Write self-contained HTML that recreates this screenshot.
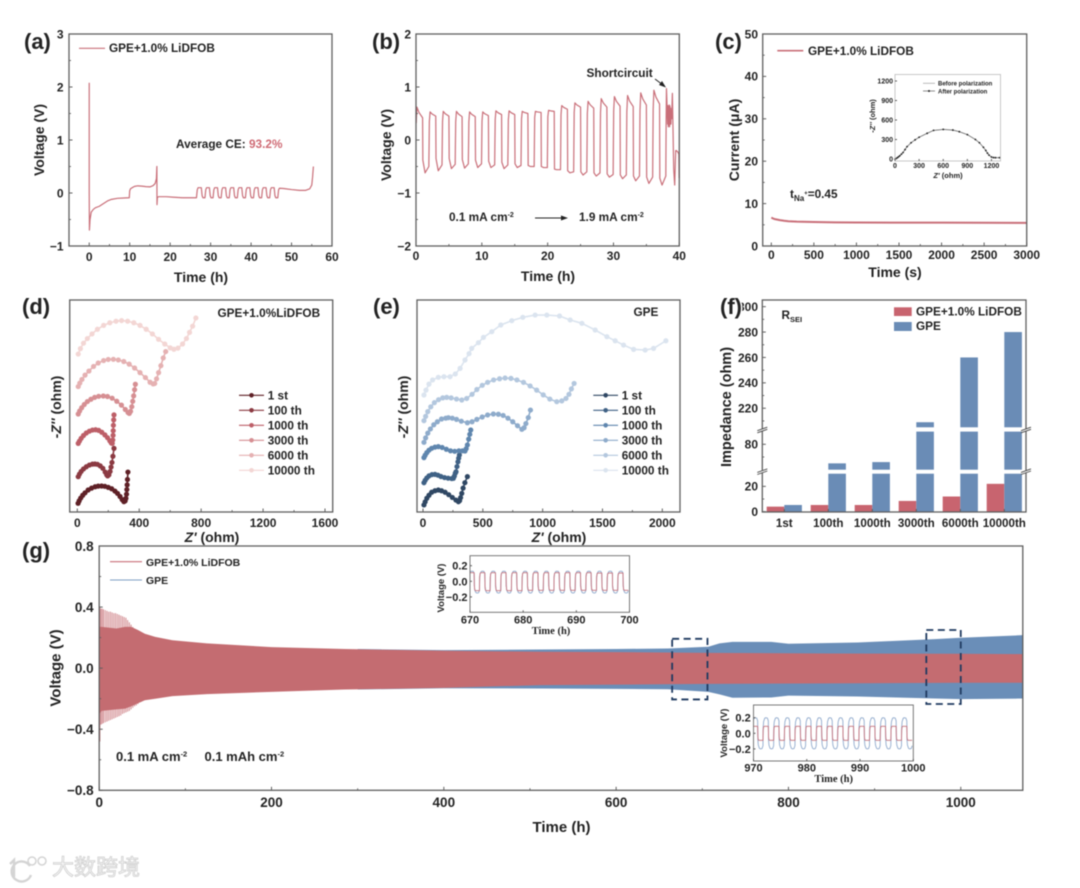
<!DOCTYPE html>
<html lang="en">
<head>
<meta charset="utf-8">
<title>Electrochemical performance of GPE and GPE+1.0% LiDFOB</title>
<style>
html,body{margin:0;padding:0;background:#fff;width:1080px;height:888px;overflow:hidden}
#figure{display:block;filter:blur(0.6px)}
text{font-family:"Liberation Sans","Noto Sans CJK SC",sans-serif;font-weight:bold;fill:#232323}
.t{font-size:12px}
.title{font-size:14px;text-anchor:middle}
.panel{font-size:22px;paint-order:stroke;stroke:#fff;stroke-width:3px}
.note{font-size:11.8px}
.serif{font-family:"Liberation Serif",serif;font-size:10.5px;text-anchor:middle}
.small{font-size:9.5px;text-anchor:middle}
</style>
</head>
<body>
<svg id="figure" xmlns="http://www.w3.org/2000/svg" width="1080" height="888" viewBox="0 0 1080 888">
<defs>
<clipPath id="g1-clip"><rect x="470" y="555.7" width="159.5" height="56.6"/></clipPath>
<clipPath id="g2-clip"><rect x="753.5" y="705" width="159.8" height="56"/></clipPath>
</defs>

<g id="panel-a">
<text class="title" transform="translate(44,140) rotate(-90)">Voltage (V)</text>
<text class="title" x="201" y="282">Time (h)</text>
<text class="note" x="109" y="52">GPE+1.0% LiDFOB</text>
<text class="note" x="176" y="148">Average CE: <tspan fill="#cf6b75" style="fill:#cf6b75">93.2%</tspan></text>
</g>

<g id="panel-b">
<text class="title" transform="translate(391,145) rotate(-90)">Voltage (V)</text>
<text class="title" x="548" y="281">Time (h)</text>
<text class="note" x="586.5" y="77">Shortcircuit</text>
<line x1="655" y1="79" x2="663" y2="85" stroke="#222" stroke-width="1"/>
<polygon points="666,87.5 659,85 662,81" fill="#222"/>
<text class="note" x="449" y="221">0.1 mA cm<tspan dy="-4" font-size="7">-2</tspan></text>
<line x1="535" y1="218" x2="562" y2="218" stroke="#222" stroke-width="1"/>
<polygon points="568,218 561,215.5 561,220.5" fill="#222"/>
<text class="note" x="579" y="221">1.9 mA cm<tspan dy="-4" font-size="7">-2</tspan></text>
</g>

<g id="panel-c">
<text class="title" transform="translate(739,140) rotate(-90)">Current (μA)</text>
<text class="title" x="895" y="277">Time (s)</text>
<text class="note" x="808" y="55">GPE+1.0% LiDFOB</text>
<text class="note" x="790" y="198">t<tspan dy="3" font-size="8">Na</tspan><tspan dy="-6" font-size="6">+</tspan><tspan dy="3">=0.45</tspan></text>
<text x="948" y="178" font-size="7.5" text-anchor="middle"><tspan font-style="italic">Z'</tspan> (ohm)</text>
<text transform="translate(875,116) rotate(-90)" font-size="7.5" text-anchor="middle">-<tspan font-style="italic">Z''</tspan> (ohm)</text>
<text x="938" y="85.5" font-size="6">Before polarization</text>
<text x="938" y="93.5" font-size="6">After polarization</text>
</g>

<g id="panel-d">
<text class="title" transform="translate(61,407) rotate(-90)">-<tspan font-style="italic">Z''</tspan> (ohm)</text>
<text class="title" x="212" y="542"><tspan font-style="italic">Z'</tspan> (ohm)</text>
<text class="note" x="217.5" y="317">GPE+1.0%LiDFOB</text>
</g>

<g id="panel-e">
<text class="title" transform="translate(408,407) rotate(-90)">-<tspan font-style="italic">Z''</tspan> (ohm)</text>
<text class="title" x="559" y="542"><tspan font-style="italic">Z'</tspan> (ohm)</text>
<text class="note" x="633.5" y="316">GPE</text>
</g>

<g id="panel-f">
<text class="title" transform="translate(731,407) rotate(-90)" style="font-size:14.5px">Impedance (ohm)</text>
<text class="note" x="781.5" y="319">R<tspan dy="3" font-size="7.5">SEI</tspan></text>
</g>

<g id="panel-g">
<text class="title" transform="translate(60.5,668) rotate(-90)" style="font-size:15px">Voltage (V)</text>
<text class="title" x="561.5" y="832" style="font-size:15px">Time (h)</text>
<text x="146" y="566" font-size="10.5">GPE+1.0% LiDFOB</text>
<text x="146" y="584" font-size="10.5">GPE</text>
<text x="116" y="761" font-size="13">0.1 mA cm<tspan dy="-4.5" font-size="7.5">-2</tspan></text>
<text x="204.5" y="761" font-size="13">0.1 mAh cm<tspan dy="-4.5" font-size="7.5">-2</tspan></text>
</g>

<g id="overlay">
<text class="serif" x="551" y="634">Time (h)</text>
<text class="small" transform="translate(444,588) rotate(-90)">Voltage (V)</text>
<text class="serif" x="833.7" y="782">Time (h)</text>
<text class="small" transform="translate(727,733) rotate(-90)">Voltage (V)</text>
<text class="panel" x="24" y="49">(a)</text>
<text class="panel" x="372" y="49">(b)</text>
<text class="panel" x="715" y="49">(c)</text>
<text class="panel" x="22" y="314">(d)</text>
<text class="panel" x="373" y="314">(e)</text>
<text class="panel" x="720" y="314">(f)</text>
<text class="panel" x="22" y="558">(g)</text>
</g>

<g id="watermark" opacity="0.9">
<path d="M10 864 L14 860 L14 877" fill="none" stroke="#d0d0d0" stroke-width="2.4"/>
<path d="M30 866 A10 10 0 1 0 31 875" fill="none" stroke="#d0d0d0" stroke-width="2.4"/>
<circle cx="32" cy="861" r="4" fill="none" stroke="#d0d0d0" stroke-width="1.5"/>
<circle cx="42" cy="861" r="4" fill="none" stroke="#d0d0d0" stroke-width="1.5"/>
<text x="52" y="875" font-size="22" style="fill:#f6f6f6;stroke:#cccccc;stroke-width:0.8px;font-weight:normal;font-family:'Liberation Sans','Noto Sans CJK SC',sans-serif">大数跨境</text>
</g>
</svg>

<script>
/* ---------- panel a: voltage profile ---------- */
const aTime = [0,0,0.05,0.2,0.5,1,1.5,2.5,3.5,4.5,5.5,7,8.5,9.9,10,10.2,10.6,11.2,12,13,14,15,15.8,16.3,16.6,16.72,16.75,16.85,17.2,19,21,23,25,26.5,26.7,26.9,27.7,27.9,28.1,28.6,28.8,29,29.7,29.9,30.1,30.6,30.8,31,31.7,31.9,32.1,32.6,32.8,33,33.7,33.9,34.1,34.6,34.8,35,35.7,35.9,36.1,36.6,36.8,37,37.7,37.9,38.1,38.6,38.8,39,39.7,39.9,40.1,40.6,40.8,41,41.7,41.9,42.1,42.6,42.8,43,43.7,43.9,44.1,44.6,44.8,45,45.7,45.9,46.1,46.6,46.8,47,48,50,52,53.5,54.5,55,55.2,55.4];
const aVoltage = [2.08,0,-0.7,-0.5,-0.36,-0.31,-0.28,-0.25,-0.2,-0.15,-0.12,-0.1,-0.095,-0.09,0.04,0.08,0.1,0.125,0.135,0.13,0.12,0.115,0.14,0.18,0.27,0.5,-0.22,-0.08,-0.07,-0.07,-0.08,-0.09,-0.09,-0.09,0.06,0.1,0.1,-0.05,-0.09,-0.09,0.06,0.1,0.1,-0.05,-0.09,-0.09,0.06,0.1,0.1,-0.05,-0.09,-0.09,0.06,0.1,0.1,-0.05,-0.09,-0.09,0.06,0.1,0.1,-0.05,-0.09,-0.09,0.06,0.1,0.1,-0.05,-0.09,-0.09,0.06,0.1,0.1,-0.05,-0.09,-0.09,0.06,0.1,0.1,-0.05,-0.09,-0.09,0.06,0.1,0.1,-0.05,-0.09,-0.09,0.06,0.1,0.1,-0.05,-0.09,-0.09,0.06,0.09,0.085,0.065,0.05,0.05,0.08,0.15,0.3,0.5];
const aXTicks = [0,10,20,30,40,50,60];
const aXMinor = [-5,5,15,25,35,45,55];
const aYTicks = [-1,0,1,2,3];
const aYMinor = [-0.5,0.5,1.5,2.5];

/* ---------- panel b: rate cycling ---------- */
const bRise = [0,2,4,6,8,10,12,14,16,18,20,22,24,26,28,30,32,34,36];
const bPeak = [0.62,0.53,0.54,0.54,0.53,0.53,0.55,0.55,0.54,0.54,0.56,0.65,0.7,0.73,0.78,0.82,0.84,0.89,0.94];
const bPlateau = [0.42,0.45,0.45,0.44,0.44,0.46,0.48,0.48,0.5,0.52,0.54,0.58,0.62,0.6,0.62,0.64,0.63,0.66,0.68];
const bShelf = [-0.38,-0.35,-0.35,-0.37,-0.38,-0.4,-0.42,-0.45,-0.48,-0.5,-0.55,-0.58,-0.6,-0.62,-0.64,-0.66,-0.68,-0.7,-0.72];
const bTrough = [-0.62,-0.58,-0.54,-0.53,-0.52,-0.52,-0.54,-0.52,-0.5,-0.52,-0.56,-0.62,-0.66,-0.68,-0.7,-0.73,-0.77,-0.82,-0.85];
const bRecover = [-0.5,-0.47,-0.46,-0.45,-0.45,-0.47,-0.47,-0.48,-0.5,-0.52,-0.56,-0.6,-0.6,-0.62,-0.65,-0.66,-0.68,-0.7,-0.68];
const bTailTime = [38,38.05,38.15,38.22,38.28,38.33,38.38,38.43,38.48,38.53,38.58,38.63,38.68,38.73,38.78,38.83,38.95,39.15,39.3,39.45,39.55,39.8,39.93,39.97];
const bTailVoltage = [0.35,0.97,0.6,0.3,0.65,0.25,0.62,0.28,0.66,0.25,0.64,0.3,0.6,0.3,0.55,0.4,0.88,-0.55,-0.85,-0.2,-0.2,-0.23,-0.27,-0.72];
const bXTicks = [0,10,20,30,40];
const bXMinor = [5,15,25,35];
const bYTicks = [-2,-1,0,1,2];
const bYMinor = [-1.5,-0.5,0.5,1.5];

/* ---------- panel c: polarization current ---------- */
const cTime = [0,25,50,100,150,200,300,500,750,1000,1500,2000,2500,3000];
const cCurrent = [6.7,6.45,6.3,6.1,5.95,5.85,5.75,5.65,5.58,5.55,5.5,5.5,5.47,5.45];
const cXTicks = [0,500,1000,1500,2000,2500,3000];
const cXMinor = [250,750,1250,1750,2250,2750];
const cYTicks = [0,10,20,30,40,50];
const cYMinor = [5,15,25,35,45];
const cInsetZr = [0,15,30,45,60,80,100,125,150,200,250,300,400,480,600,720,800,900,1000,1050,1100,1130,1150,1170,1200,1225,1250,1300];
const cInsetZi = [0,8,20,35,50,75,100,145,190,250,295,335,395,440,455,445,420,375,300,250,180,130,90,60,30,22,20,20];
const cInsetXTicks = [0,300,600,900,1200];
const cInsetYTicks = [0,300,600,900,1200];

/* ---------- panel d: LiDFOB impedance ---------- */
const cycleNames = ['1 st','100 th','1000 th','3000 th','6000 th','10000 th'];
const dZr1 = [5,12,22,35,50,70,92,115,135,157,178,200,222,243,260,276,290,301,309,314,318,320,322,324,327];
const dZi1 = [56,72,90,108,124,142,154,163,167,168,166,159,150,135,120,100,80,67,72,88,115,145,175,210,258];
const dZr2 = [6,14,25,40,58,78,98,114,130,148,165,180,190,196,204,212,218,224,230,237];
const dZi2 = [228,245,262,278,292,303,309,310,308,298,282,258,240,233,240,262,290,320,360,411];
const dZr3 = [6,14,25,40,58,78,98,118,138,158,178,195,210,220,226,229,231,232,233,235,237];
const dZi3 = [443,458,476,494,510,522,529,531,527,515,498,480,460,445,443,465,495,525,560,595,627];
const dZr4 = [6,15,28,45,65,88,112,138,168,195,225,255,285,310,328,336,344,352,358,364,370,375];
const dZi4 = [633,652,673,694,713,728,740,747,749,746,735,715,690,662,642,637,650,680,715,750,790,825];
const dZr5 = [6,16,30,50,75,105,135,170,200,233,265,300,335,370,405,440,470,490,500,512,525,540,555,571];
const dZi5 = [810,832,856,884,910,940,962,978,985,986,982,972,955,930,900,868,838,827,830,860,900,945,995,1036];
const dZr6 = [6,20,40,65,95,130,170,210,250,286,325,365,405,445,485,525,565,600,624,650,680,705,725,745,766];
const dZi6 = [1020,1055,1090,1120,1150,1180,1205,1222,1232,1236,1232,1222,1205,1180,1150,1115,1085,1060,1051,1058,1085,1120,1160,1200,1253];
const dXTicks = [0,400,800,1200,1600];
const dXMinor = [200,600,1000,1400];

/* ---------- panel e: GPE impedance ---------- */
const eZr1 = [8,18,32,50,72,100,128,155,185,215,245,275,296,306,314,324,335,350,371];
const eZi1 = [59,85,115,140,165,178,184,178,165,145,122,100,86,95,120,156,200,245,296];
const eZr2 = [8,18,32,50,75,100,125,150,180,210,240,254,262,270,276,284,292,298,304];
const eZi2 = [245,265,285,302,313,315,308,297,288,283,280,282,300,325,337,380,420,450,477];
const eZr3 = [8,18,32,50,72,100,128,160,195,230,265,300,330,351,361,371,382,391,399];
const eZi3 = [455,475,497,517,533,543,547,540,525,512,508,512,512,510,530,561,610,650,686];
const eZr4 = [8,22,40,62,90,120,155,190,212,245,280,320,371,410,450,495,540,588,630,670,710,750,790,826,845,860,880,898];
const eZi4 = [583,620,660,695,730,755,778,785,789,785,775,760,747,755,775,795,812,820,818,808,785,755,722,692,705,740,790,853];
const eZr5 = [8,22,40,65,95,130,165,198,235,280,324,365,410,450,495,540,590,640,686,735,785,840,895,950,1005,1060,1118,1160,1195,1220,1240,1263];
const eZi5 = [764,800,840,880,915,940,955,959,955,945,937,950,985,1025,1060,1085,1105,1115,1121,1118,1105,1085,1055,1020,980,945,923,930,950,985,1030,1076];
const eZr6 = [8,25,50,80,128,175,226,270,310,351,385,407,463,505,575,650,742,834,937,1035,1141,1230,1328,1439,1537,1606,1676,1760,1857,1927,2030];
const eZi6 = [979,1020,1070,1105,1127,1132,1132,1155,1202,1272,1325,1369,1417,1461,1509,1565,1601,1629,1648,1648,1640,1607,1579,1523,1467,1433,1397,1361,1355,1369,1433];
const eXTicks = [0,500,1000,1500,2000];
const eXMinor = [250,750,1250,1750];

/* ---------- panel f: bar chart ---------- */
const fCategories = ['1st','100th','1000th','3000th','6000th','10000th'];
const fLidfob = [4,5.3,5.3,8.5,12,22];
const fGpe = [5.3,65,66,209,260,280];
const fYTicks = [0,20,80,220,240,260,280,300];
const fYMinor = [10,70,210,230,250,270,290];

/* ---------- panel g: long-term cycling envelope ---------- */
const gRedTime = [0,3,20,30,37,45,53,65,85,125,200,285,400,512,600,707,850,1000,1072];
const gRedHigh = [0.27,0.27,0.26,0.27,0.27,0.25,0.225,0.205,0.183,0.162,0.138,0.125,0.114,0.107,0.105,0.1,0.096,0.094,0.092];
const gRedLow = [-0.3,-0.28,-0.27,-0.265,-0.25,-0.23,-0.21,-0.2,-0.183,-0.17,-0.155,-0.14,-0.129,-0.111,-0.108,-0.103,-0.1,-0.096,-0.096];
const gBlueTime = [300,400,512,600,660,707,720,735,780,800,880,970,1000,1072];
const gBlueHigh = [0.125,0.118,0.122,0.125,0.129,0.14,0.162,0.172,0.172,0.16,0.168,0.19,0.199,0.216];
const gBlueLow = [-0.14,-0.132,-0.133,-0.136,-0.138,-0.155,-0.172,-0.194,-0.192,-0.18,-0.186,-0.199,-0.203,-0.199];
const gSpikeTime = [0.8,2,3.5,5,7,9,11,13,15,17,19,21,23,25,27,29,31,33,35,37,39,41,43,45,47,49];
const gSpikeHigh = [0.4,0.39,0.39,0.385,0.38,0.375,0.37,0.37,0.365,0.36,0.36,0.355,0.35,0.345,0.34,0.335,0.33,0.315,0.3,0.285,0.27,0.26,0.25,0.245,0.24,0.235];
const gSpikeLow = [-0.48,-0.37,-0.365,-0.36,-0.355,-0.35,-0.345,-0.34,-0.335,-0.33,-0.325,-0.32,-0.315,-0.31,-0.3,-0.295,-0.29,-0.285,-0.28,-0.27,-0.26,-0.25,-0.245,-0.235,-0.225,-0.22];
const gXTicks = [0,200,400,600,800,1000];
const gXMinor = [100,300,500,700,900];
const gYTicks = [-0.8,-0.4,0,0.4,0.8];
const gYMinor = [-0.6,-0.2,0.2,0.6];
const gZoomStart = [665,960];
const gZoomEnd = [706,1000];
const gZoomHigh = [0.192,0.25];
const gZoomLow = [-0.205,-0.235];

/* ---------- panel g insets ---------- */
const g1Starts = [669.8,671.8,673.8,675.8,677.8,679.8,681.8,683.8,685.8,687.8,689.8,691.8,693.8,695.8,697.8];
const g1RedHigh = [0.11,0.11,0.11,0.11,0.11,0.11,0.11,0.11,0.11,0.11,0.11,0.11,0.105,0.105,0.105];
const g1RedLow = [-0.12,-0.12,-0.12,-0.12,-0.12,-0.115,-0.115,-0.115,-0.115,-0.115,-0.115,-0.115,-0.115,-0.115,-0.115];
const g1BlueHigh = [0.13,0.13,0.13,0.13,0.13,0.13,0.13,0.13,0.13,0.13,0.13,0.13,0.13,0.13,0.13];
const g1BlueLow = [-0.15,-0.15,-0.15,-0.15,-0.15,-0.15,-0.15,-0.15,-0.15,-0.15,-0.15,-0.15,-0.15,-0.15,-0.15];
const g1XTicks = [670,680,690,700];
const g2Starts = [969.8,971.8,973.8,975.8,977.8,979.8,981.8,983.8,985.8,987.8,989.8,991.8,993.8,995.8,997.8];
const g2RedHigh = [0.09,0.09,0.09,0.09,0.09,0.09,0.09,0.09,0.09,0.09,0.09,0.09,0.09,0.09,0.09];
const g2RedLow = [-0.09,-0.09,-0.09,-0.09,-0.09,-0.09,-0.09,-0.09,-0.09,-0.09,-0.09,-0.09,-0.09,-0.09,-0.09];
const g2BlueHigh = [0.2,0.2,0.2,0.2,0.2,0.2,0.2,0.2,0.2,0.2,0.2,0.2,0.2,0.2,0.2];
const g2BlueLow = [-0.2,-0.2,-0.2,-0.2,-0.2,-0.2,-0.2,-0.2,-0.2,-0.2,-0.2,-0.2,-0.2,-0.2,-0.2];
const g2XTicks = [970,980,990,1000];
const gInsetYTicks = [-0.2,0,0.2];

/* ---------- helpers ---------- */
const NS = 'http://www.w3.org/2000/svg';
const svgRoot = document.getElementById('figure');
const PINK = '#c96f79';
const FRAME = '#5f5f5f';
function mk(tag, name, attrs, parent) {
  const el = document.createElementNS(NS, tag);
  
  
  for (const k in attrs) el.setAttribute(k, attrs[k]);
  parent.appendChild(el);
  return el;
}
function linear(d0, d1, r0, r1) {
  return v => r0 + (v - d0) * (r1 - r0) / (d1 - d0);
}
function label(name, str, x, y, size, anchor, parent) {
  const el = mk('text', name, {x: x, y: y, 'font-size': size, 'text-anchor': anchor}, parent);
  el.textContent = str;
  return el;
}
function fmtNum(v, digits) {
  const s = Math.abs(v).toFixed(digits);
  return (v < 0 ? '\u2212' : '') + s;
}
function pts(xs, ys, fx, fy) {
  return xs.map((x, i) => fx(x).toFixed(2) + ',' + fy(ys[i]).toFixed(2)).join(' ');
}
function frameAndTicks(o, parent) {
  mk('rect', o.key + '-plot-frame', {x: o.left, y: o.top, width: o.right - o.left, height: o.bottom - o.top, fill: 'none', stroke: o.frame || FRAME, 'stroke-width': o.sw || 1.3}, parent);
  const maj = o.maj || 3.5, min = o.min || 2, size = o.size || 12;
  (o.xTicks || []).forEach(v => {
    mk('line', o.key + '-x-tick', {x1: o.x(v), x2: o.x(v), y1: o.bottom, y2: o.bottom - maj, stroke: FRAME, 'stroke-width': 1}, parent);
    label(o.key + '-x-tick-label', o.xFmt ? o.xFmt(v) : String(v), o.x(v), o.xLabelY, size, 'middle', parent);
  });
  (o.xMinor || []).forEach(v => {
    mk('line', o.key + '-x-minor-tick', {x1: o.x(v), x2: o.x(v), y1: o.bottom, y2: o.bottom - min, stroke: FRAME, 'stroke-width': 0.9}, parent);
  });
  (o.yTicks || []).forEach(v => {
    mk('line', o.key + '-y-tick', {x1: o.left, x2: o.left + maj, y1: o.y(v), y2: o.y(v), stroke: FRAME, 'stroke-width': 1}, parent);
    label(o.key + '-y-tick-label', o.yFmt ? o.yFmt(v) : fmtNum(v, 0), o.yLabelX, o.y(v) + size * 0.36, size, 'end', parent);
  });
  (o.yMinor || []).forEach(v => {
    mk('line', o.key + '-y-minor-tick', {x1: o.left, x2: o.left + min, y1: o.y(v), y2: o.y(v), stroke: FRAME, 'stroke-width': 0.9}, parent);
  });
}
function series(name, xs, ys, fx, fy, color, width, parent) {
  return mk('polyline', name, {points: pts(xs, ys, fx, fy), fill: 'none', stroke: color, 'stroke-width': width, 'stroke-linejoin': 'round'}, parent);
}

/* ---------- panel a ---------- */
(function () {
  const g = document.getElementById('panel-a');
  const x = linear(-5, 60, 69, 332), y = linear(-1, 3, 246, 34);
  series('voltage-curve-a', aTime, aVoltage, x, y, PINK, 1.2, g);
  frameAndTicks({key: 'a', left: 69, right: 332, top: 34, bottom: 246, x: x, y: y, xTicks: aXTicks, xMinor: aXMinor, yTicks: aYTicks, yMinor: aYMinor, xLabelY: 261, yLabelX: 63.5}, g);
  mk('line', 'legend-line-a', {x1: 79, x2: 105, y1: 48.3, y2: 48.3, stroke: PINK, 'stroke-width': 1.2}, g);
})();

/* ---------- panel b ---------- */
(function () {
  const g = document.getElementById('panel-b');
  const x = linear(0, 40, 416, 679.3), y = linear(-2, 2, 246, 34);
  const ts = [], vs = [];
  bRise.forEach((t, i) => {
    ts.push(t + 0.03, t + 0.14, t + 0.45, t + 1.0, t + 1.04, t + 1.38, t + 1.95);
    vs.push(bPlateau[i] - 0.1, bPeak[i], (bPeak[i] + bPlateau[i]) / 2, bPlateau[i], bShelf[i], bTrough[i], bRecover[i]);
  });
  bTailTime.forEach((t, i) => { ts.push(t); vs.push(bTailVoltage[i]); });
  series('voltage-curve-b', ts, vs, x, y, PINK, 1.2, g);
  frameAndTicks({key: 'b', left: 416, right: 679.3, top: 34, bottom: 246, x: x, y: y, xTicks: bXTicks, xMinor: bXMinor, yTicks: bYTicks, yMinor: bYMinor, xLabelY: 260, yLabelX: 411}, g);
})();

/* ---------- panel c ---------- */
(function () {
  const g = document.getElementById('panel-c');
  const x = linear(0, 3000, 771.3, 1026.7), y = linear(0, 50, 246, 34);
  series('current-curve-c', cTime, cCurrent, x, y, PINK, 2, g);
  frameAndTicks({key: 'c', left: 762.7, right: 1026.7, top: 34, bottom: 246, x: x, y: y, xTicks: cXTicks, xMinor: cXMinor, yTicks: cYTicks, yMinor: cYMinor, xLabelY: 259, yLabelX: 758}, g);
  mk('line', 'legend-line-c', {x1: 777.3, x2: 803.3, y1: 50.7, y2: 50.7, stroke: PINK, 'stroke-width': 1.6}, g);
  const ix = linear(0, 1300, 895, 999.5), iy = linear(0, 1200, 159, 81);
  series('inset-c-before-curve', cInsetZr, cInsetZi, ix, iy, '#9a9a9a', 0.9, g);
  series('inset-c-after-curve', cInsetZr, cInsetZi, ix, iy, '#555', 0.5, g);
  cInsetZr.forEach((v, i) => {
    mk('circle', 'inset-c-after-point', {cx: ix(v), cy: iy(cInsetZi[i]), r: 0.9, fill: '#222'}, g);
  });
  frameAndTicks({key: 'inset-c', left: 895, right: 1000.5, top: 74.5, bottom: 161, frame: '#c2c2c2', sw: 0.9, maj: 2, min: 1, size: 7, x: ix, y: iy, xTicks: cInsetXTicks, yTicks: cInsetYTicks, xLabelY: 168, yLabelX: 893}, g);
  mk('line', 'inset-c-legend-before-line', {x1: 923, x2: 935, y1: 83.3, y2: 83.3, stroke: '#aaa', 'stroke-width': 0.8}, g);
  mk('line', 'inset-c-legend-after-line', {x1: 923, x2: 935, y1: 91, y2: 91, stroke: '#444', 'stroke-width': 0.6}, g);
  mk('circle', 'inset-c-legend-after-marker', {cx: 929, cy: 91, r: 1, fill: '#222'}, g);
})();

/* ---------- panels d and e ---------- */
function nyquist(key, left, right, xs, ys, colors, x, y, xTicks, xMinor, legendX0, legendX1, legendTextX, parent) {
  frameAndTicks({key: key, left: left, right: right, top: 300, bottom: 512, x: x, y: y, xTicks: xTicks, xMinor: xMinor, xLabelY: 527, yLabelX: left}, parent);
  xs.forEach((xArr, s) => {
    series(key + '-nyquist-line-' + cycleNames[s].replace(' ', ''), xArr, ys[s], x, y, colors[s], 1.6, parent);
    xArr.forEach((v, i) => {
      mk('circle', key + '-nyquist-point', {cx: x(v), cy: y(ys[s][i]), r: 2.6, fill: colors[s]}, parent);
    });
    const ly = 395.3 + s * 15;
    mk('line', key + '-legend-line', {x1: legendX0, x2: legendX1, y1: ly, y2: ly, stroke: colors[s], 'stroke-width': 1.2}, parent);
    mk('circle', key + '-legend-marker', {cx: (legendX0 + legendX1) / 2, cy: ly, r: 2.3, fill: colors[s]}, parent);
    label(key + '-legend-label', cycleNames[s], legendTextX, ly + 4, 11.8, 'start', parent);
  });
}
nyquist('d', 69.7, 332.7, [dZr1, dZr2, dZr3, dZr4, dZr5, dZr6], [dZi1, dZi2, dZi3, dZi4, dZi5, dZi6],
  ['#5e2026', '#8b3a42', '#bd5f68', '#d68f93', '#e5b1b2', '#f3d6d4'],
  linear(0, 1600, 77.3, 325), linear(0, 1369, 512, 300), dXTicks, dXMinor, 239, 264, 267.7, document.getElementById('panel-d'));
nyquist('e', 417, 680, [eZr1, eZr2, eZr3, eZr4, eZr5, eZr6], [eZi1, eZi2, eZi3, eZi4, eZi5, eZi6],
  ['#2f4763', '#3f6185', '#5f86ae', '#8eabcb', '#b3c7de', '#dbe4ef'],
  linear(0, 2000, 423, 662.3), linear(0, 1774, 512, 300), eXTicks, eXMinor, 593.3, 618, 621.7, document.getElementById('panel-e'));

/* ---------- panel f ---------- */
(function () {
  const g = document.getElementById('panel-f');
  const segLow = linear(0, 30, 511.7, 473.7), segMid = linear(60, 90, 469.7, 431.6), segTop = linear(205, 305, 427.3, 300.3);
  const RED = '#c8646f', BLUE = '#6a8cb6';
  const y = v => (v <= 30 ? segLow(v) : v <= 90 ? segMid(v) : segTop(v));
  const band = i => 762.3 + (i + 0.5) * 44;
  const barW = 17.6;
  function bar(name, x0, value, color) {
    const segs = [[0, 30, segLow], [60, 90, segMid], [205, 305, segTop]];
    segs.forEach(s => {
      if (value <= s[0]) return;
      const top = Math.min(value, s[1]);
      const yTop = s[2](top), yBot = s[2](s[0]);
      mk('rect', name, {x: x0, y: yTop, width: barW, height: yBot - yTop, fill: color}, g);
    });
  }
  fCategories.forEach((c, i) => {
    bar('bar-lidfob-' + c, band(i) - barW, fLidfob[i], RED);
    bar('bar-gpe-' + c, band(i), fGpe[i], BLUE);
  });
  frameAndTicks({key: 'f', left: 762.3, right: 1026, top: 300, bottom: 512, x: band, y: y, yTicks: fYTicks, yMinor: fYMinor, yLabelX: 758}, g);
  fCategories.forEach((c, i) => {
    mk('line', 'f-x-tick', {x1: band(i), x2: band(i), y1: 512, y2: 509, stroke: FRAME, 'stroke-width': 1}, g);
    label('f-x-tick-label', c, band(i), 527, 11.6, 'middle', g);
  });
  [471.7, 430].forEach(py => {
    [762.3, 1026].forEach(px => {
      mk('rect', 'axis-break-gap', {x: px - 3, y: py - 1.3, width: 6, height: 2.6, fill: '#fff'}, g);
      mk('line', 'axis-break-slash', {x1: px - 5, y1: py + 0.7, x2: px + 5, y2: py - 2.8, stroke: '#444', 'stroke-width': 0.9}, g);
      mk('line', 'axis-break-slash', {x1: px - 5, y1: py + 2.8, x2: px + 5, y2: py - 0.7, stroke: '#444', 'stroke-width': 0.9}, g);
    });
  });
  mk('rect', 'legend-swatch-lidfob', {x: 894, y: 307.3, width: 17.7, height: 8.7, fill: RED}, g);
  mk('rect', 'legend-swatch-gpe', {x: 894, y: 322, width: 17.7, height: 9, fill: BLUE}, g);
  label('legend-label-f-lidfob', 'GPE+1.0% LiDFOB', 916, 315.5, 11.8, 'start', g);
  label('legend-label-f-gpe', 'GPE', 916, 330, 11.8, 'start', g);
})();

/* ---------- panel g ---------- */
function wavePoints(starts, hi, lo, dome) {
  const shape = dome
    ? [[0.02, 0.4], [0.1, 0.75], [0.3, 0.96], [0.5, 1], [0.8, 0.98], [0.98, 0.8]]
    : [[0.02, 0.5], [0.1, 0.92], [0.25, 1], [0.98, 1]];
  const ts = [], vs = [];
  starts.forEach((t0, i) => {
    shape.forEach(p => { ts.push(t0 + p[0]); vs.push(p[1] * hi[i]); });
    shape.forEach(p => { ts.push(t0 + 1 + p[0]); vs.push(p[1] * lo[i]); });
  });
  return [ts, vs];
}
function envelope(name, ts, hi, lo, x, y, color, parent) {
  const up = ts.map((t, i) => x(t).toFixed(2) + ',' + y(hi[i]).toFixed(2));
  const dn = ts.map((t, i) => x(t).toFixed(2) + ',' + y(lo[i]).toFixed(2)).reverse();
  return mk('polygon', name, {points: up.concat(dn).join(' '), fill: color}, parent);
}
(function () {
  const g = document.getElementById('panel-g');
  const x = linear(0, 1072, 99.2, 1022.8), y = linear(-0.8, 0.8, 790.3, 546);
  const RED = '#c46c71', BLUE = '#6a8eb8';
  envelope('gpe-voltage-band', gBlueTime, gBlueHigh, gBlueLow, x, y, BLUE, g);
  gSpikeTime.forEach((t, i) => {
    mk('line', 'lidfob-voltage-spike', {x1: x(t), x2: x(t), y1: y(gSpikeHigh[i]), y2: y(gSpikeLow[i]), stroke: '#d28b90', 'stroke-width': 1}, g);
  });
  envelope('lidfob-voltage-band', gRedTime, gRedHigh, gRedLow, x, y, RED, g);
  frameAndTicks({key: 'g', left: 99.2, right: 1022.8, top: 546, bottom: 790.3, size: 13.5, x: x, y: y, xTicks: gXTicks, xMinor: gXMinor, yTicks: gYTicks, yMinor: gYMinor, yFmt: v => fmtNum(v, 1), xLabelY: 807, yLabelX: 93.7}, g);
  mk('line', 'legend-line-g-lidfob', {x1: 110, x2: 142, y1: 561.7, y2: 561.7, stroke: PINK, 'stroke-width': 1.1}, g);
  mk('line', 'legend-line-g-gpe', {x1: 110, x2: 142, y1: 580, y2: 580, stroke: '#7f9fc6', 'stroke-width': 1.1}, g);
  gZoomStart.forEach((t, i) => {
    mk('rect', 'zoom-region-box', {x: x(t), y: y(gZoomHigh[i]), width: x(gZoomEnd[i]) - x(t), height: y(gZoomLow[i]) - y(gZoomHigh[i]), fill: 'none', stroke: '#1f3a60', 'stroke-width': 1.8, 'stroke-dasharray': '7 4.5'}, g);
  });

  function inset(key, clip, left, right, top, bottom, xDom0, xDom1, yZero, starts, rh, rl, bh, bl, xTicks, xLabelY, yLabelX) {
    const ix = linear(xDom0, xDom1, left, right), iy = v => yZero - v * 78;
    const holder = mk('g', key + '-wave-group', {'clip-path': 'url(#' + clip + ')'}, g);
    const blue = wavePoints(starts, bh, bl, true);
    const red = wavePoints(starts, rh, rl, false);
    series(key + '-gpe-wave', blue[0], blue[1], ix, iy, '#8fa9cc', 0.9, holder);
    series(key + '-lidfob-wave', red[0], red[1], ix, iy, '#c4727c', 0.9, holder);
    frameAndTicks({key: key, left: left, right: right, top: top, bottom: bottom, frame: '#6a6a6a', sw: 0.9, maj: 2, min: 1, size: 11, x: ix, y: iy, xTicks: xTicks, yTicks: gInsetYTicks, yFmt: v => fmtNum(v, 1), xLabelY: xLabelY, yLabelX: yLabelX}, g);
  }
  inset('inset-g1', 'g1-clip', 470, 629.5, 555.7, 612.3, 670, 700, 581.3, g1Starts, g1RedHigh, g1RedLow, g1BlueHigh, g1BlueLow, g1XTicks, 623.5, 467.5);
  inset('inset-g2', 'g2-clip', 753.5, 913.3, 705, 761, 970, 1000, 733.3, g2Starts, g2RedHigh, g2RedLow, g2BlueHigh, g2BlueLow, g2XTicks, 771.5, 750.7);
})();

/* keep inset titles and panel labels above the marks */
svgRoot.appendChild(document.getElementById('overlay'));
svgRoot.appendChild(document.getElementById('watermark'));
</script>
</body>
</html>
